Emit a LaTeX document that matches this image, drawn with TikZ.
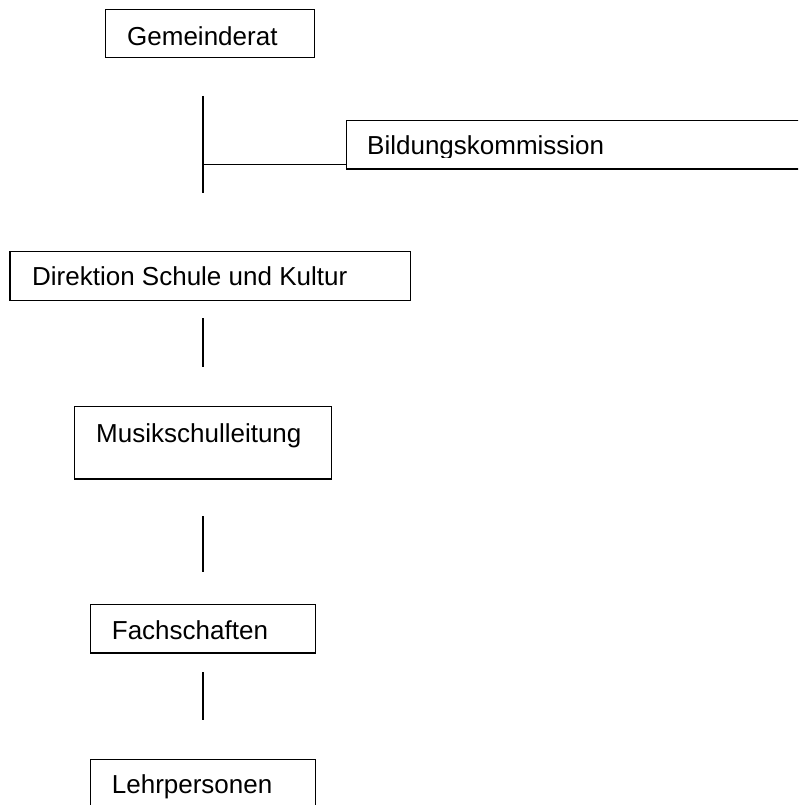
\documentclass[tikz,border=0pt]{standalone}
\usepackage{fontspec}
\setmainfont{Liberation Sans}
\usepackage{tikz}

\tikzset{
  box/.style={draw, line width=1.4pt, inner sep=0pt, anchor=north west},
  lbl/.style={anchor=base west, inner sep=0pt, font=\fontsize{26}{31}\selectfont},
  stem/.style={line width=1.4pt},
}

\begin{document}
\begin{tikzpicture}[x=1pt,y=-1pt]
\clip (0,0) rectangle (798,805);
\fill[white] (0,0) rectangle (798,805);

\node[box, minimum width=209pt, minimum height=48pt] (gem) at (105,9) {};
\node[lbl] (gemtxt) at (127,45.5) {Gemeinderat};

\node[box, minimum width=480pt, minimum height=48.5pt] (bild) at (346,120) {};
\begin{scope}
\clip (346,120) rectangle (798,158);
\node[lbl] (bildtxt) at (367,155) {Bildungskommission};
\end{scope}

\node[box, minimum width=400.7pt, minimum height=49pt] (dir) at (9.3,251) {};
\node[lbl] (dirtxt) at (32,285) {Direktion Schule und Kultur};

\node[box, minimum width=256.7pt, minimum height=72.6pt] (mus) at (74,405.7) {};
\node[lbl] (mustxt) at (96,442) {Musikschulleitung};

\node[box, minimum width=225pt, minimum height=48.3pt] (fach) at (90,604) {};
\node[lbl] (fachtxt) at (111.7,639.3) {Fachschaften};

\node[box, minimum width=225pt, minimum height=60pt] (lehr) at (90,759) {};
\node[lbl] (lehrtxt) at (111.7,793) {Lehrpersonen};

\coordinate (s1a) at (203,96);
\coordinate (s1b) at (203,193);
\coordinate (s1m) at (203,164.5);
\coordinate (s2a) at (203,318);
\coordinate (s2b) at (203,367);
\coordinate (s3a) at (203,516);
\coordinate (s3b) at (203,572);
\coordinate (s4a) at (203,672);
\coordinate (s4b) at (203,720);

\draw[stem] (s1a) -- (s1b);
\draw[stem] (s1m) -- (s1m -| bild.west);
\draw[stem] (s2a) -- (s2b);
\draw[stem] (s3a) -- (s3b);
\draw[stem] (s4a) -- (s4b);
\end{tikzpicture}
\end{document}
